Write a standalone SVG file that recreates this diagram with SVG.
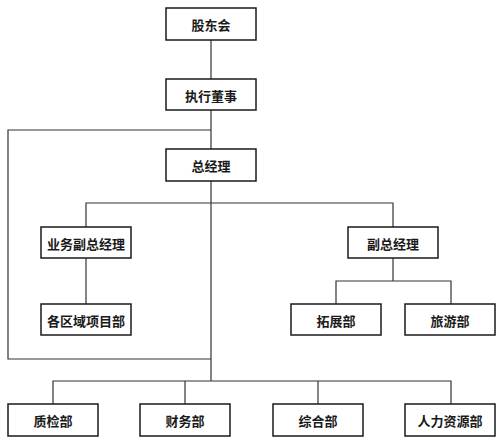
<svg xmlns="http://www.w3.org/2000/svg" width="500" height="443" viewBox="0 0 500 443">
<style>
.box{fill:#fff;stroke:#1a1a1a;stroke-width:1.5}
.lbl{font-family:"Noto Sans CJK SC","Noto Sans",sans-serif;font-size:13px;font-weight:bold;fill:#1a1a1a;text-anchor:middle;dominant-baseline:central}
.c{fill:none;stroke:#333;stroke-width:1.2}
</style>
<rect width="500" height="443" fill="#fff"/>
<g id="connectors">
<path class="c" d="M211 40V79"/>
<path class="c" d="M211 110V149"/>
<path class="c" d="M211 130H8V359H211"/>
<path class="c" d="M211 181V381"/>
<path class="c" d="M86 227V203H393V227"/>
<path class="c" d="M86 258V304"/>
<path class="c" d="M393 258V281"/>
<path class="c" d="M336 304V281H451V304"/>
<path class="c" d="M53 404V381H451V404"/>
<path class="c" d="M185 381V404"/>
<path class="c" d="M318 381V404"/>
</g>
<g id="n1"><rect class="box" x="166" y="8" width="90" height="32"/><text class="lbl" x="211" y="24">股东会</text></g>
<g id="n2"><rect class="box" x="166" y="79" width="90" height="31"/><text class="lbl" x="211" y="95">执行董事</text></g>
<g id="n3"><rect class="box" x="166" y="149" width="90" height="32"/><text class="lbl" x="211" y="165">总经理</text></g>
<g id="n4"><rect class="box" x="41" y="227" width="90" height="31"/><text class="lbl" x="86" y="243">业务副总经理</text></g>
<g id="n5"><rect class="box" x="348" y="227" width="90" height="31"/><text class="lbl" x="393" y="243">副总经理</text></g>
<g id="n6"><rect class="box" x="41" y="304" width="90" height="31"/><text class="lbl" x="86" y="320">各区域项目部</text></g>
<g id="n7"><rect class="box" x="291" y="304" width="90" height="31"/><text class="lbl" x="336" y="320">拓展部</text></g>
<g id="n8"><rect class="box" x="405" y="304" width="90" height="31"/><text class="lbl" x="450" y="320">旅游部</text></g>
<g id="n9"><rect class="box" x="8" y="404" width="90" height="32"/><text class="lbl" x="53" y="420">质检部</text></g>
<g id="n10"><rect class="box" x="140" y="404" width="90" height="32"/><text class="lbl" x="185" y="420">财务部</text></g>
<g id="n11"><rect class="box" x="273" y="404" width="90" height="32"/><text class="lbl" x="318" y="420">综合部</text></g>
<g id="n12"><rect class="box" x="405" y="404" width="90" height="32"/><text class="lbl" x="450" y="420">人力资源部</text></g>
</svg>
